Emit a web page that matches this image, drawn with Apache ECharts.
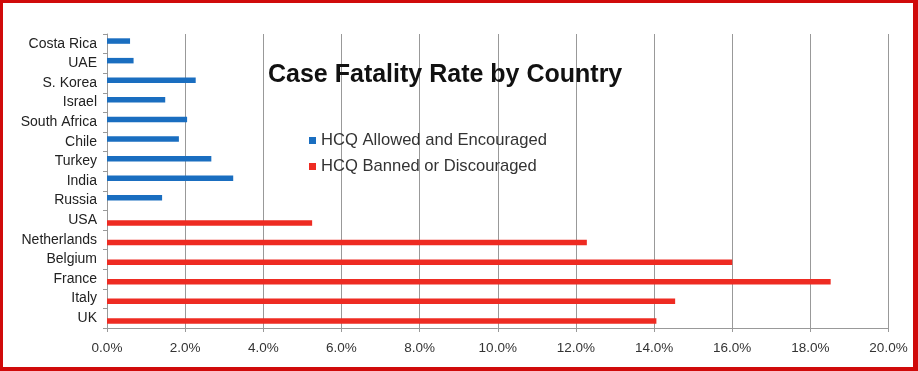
<!DOCTYPE html>
<html><head><meta charset="utf-8">
<script src="https://cdn.jsdelivr.net/npm/echarts@6/dist/echarts.min.js"></script>
<style>
html,body{margin:0;padding:0;background:#fff;}
#chart{position:absolute;left:0;top:0;width:918px;height:371px;}
#frame{position:absolute;left:0;top:0;width:918px;height:371px;box-sizing:border-box;
border-style:solid;border-color:#d00a0a;border-width:3px 5px 4px 3px;pointer-events:none;}
</style></head>
<body>
<div id="chart"></div><div id="frame"></div>
<script>
const countries = ["Costa Rica","UAE","S. Korea","Israel","South Africa","Chile","Turkey","India","Russia","USA","Netherlands","Belgium","France","Italy","UK"];
const allowed = [0.59,0.68,2.27,1.49,2.05,1.84,2.67,3.23,1.41,null,null,null,null,null,null];
const banned = [null,null,null,null,null,null,null,null,null,5.25,12.28,16.0,18.52,14.54,14.06];
const xTicks = [0,2,4,6,8,10,12,14,16,18,20];

const chart = echarts.init(document.getElementById('chart'), null, {renderer:'canvas'});
chart.setOption({
  animation:false,
  backgroundColor:'#fff',
  title:{text:'Case Fatality Rate by Country', left:263, top:58,
    textStyle:{fontFamily:'Liberation Sans, Arial', fontSize:25, fontWeight:'bold', color:'#111'}},
  legend:{orient:'vertical', left:304, top:127, itemWidth:7, itemHeight:7, itemGap:9, icon:'rect',
    textStyle:{fontFamily:'Liberation Sans, Arial', fontSize:16.6, color:'#333'}},
  grid:{left:107, right:29.5, top:34, bottom:43},
  xAxis:{type:'value', min:xTicks[0], max:xTicks[xTicks.length-1], interval:2,
    axisLine:{show:true, lineStyle:{color:'#999'}},
    axisTick:{show:true, length:4, lineStyle:{color:'#999'}},
    splitLine:{show:true, lineStyle:{color:'#999', width:1}},
    axisLabel:{formatter:v=>v.toFixed(1)+'%', margin:13, fontFamily:'Liberation Sans, Arial', fontSize:13.5, color:'#333'}},
  yAxis:{type:'category', data:countries, inverse:true,
    axisLine:{show:true, lineStyle:{color:'#999'}},
    axisTick:{show:true, length:4, lineStyle:{color:'#999'}},
    axisLabel:{margin:10, fontFamily:'Liberation Sans, Arial', fontSize:14, color:'#222'}},
  series:[
    {name:'HCQ Allowed and Encouraged', type:'bar', data:allowed, barWidth:5.5, barGap:'0%', itemStyle:{color:'#1a6ec0'}},
    {name:'HCQ Banned or Discouraged', type:'bar', data:banned, barWidth:5.5, barGap:'0%', itemStyle:{color:'#ee2b22'}}
  ]
});
</script>
</body></html>
